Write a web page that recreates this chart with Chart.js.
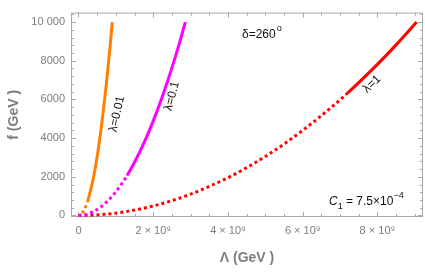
<!DOCTYPE html>
<html>
<head>
<meta charset="utf-8">
<script src="https://cdn.jsdelivr.net/npm/chart.js@4/dist/chart.umd.min.js"></script>
<style>
  html, body { margin: 0; padding: 0; background: #fff; }
</style>
</head>
<body>
<canvas id="chart" width="425" height="273"></canvas>
<script>
// Lambda (GeV) and f (GeV)
// lambda = 0.01 (orange)
const lamOrangeDot = [0.1e9, 0.15e9, 0.2e9, 0.25e9];
const fOrangeDot = [120, 275, 490, 760];
const lamOrange = [0.25e9, 0.35e9, 0.45e9, 0.55e9, 0.65e9, 0.75e9, 0.85e9, 0.905e9];
const fOrange = [760, 1500, 2470, 3690, 5160, 6870, 8820, 10000];

// lambda = 0.1 (magenta)
const lamMagentaDot = [0, 0.2e9, 0.4e9, 0.6e9, 0.8e9, 1.0e9, 1.2e9, 1.3e9];
const fMagentaDot = [0, 50, 195, 440, 780, 1220, 1760, 2060];
const lamMagenta = [1.3e9, 1.5e9, 1.75e9, 2.0e9, 2.25e9, 2.5e9, 2.7e9, 2.86e9];
const fMagenta = [2060, 2750, 3740, 4880, 6180, 7630, 8900, 10000];

// lambda = 1 (red)
const lamRedDot = [0, 0.5e9, 1e9, 1.5e9, 2e9, 2.5e9, 3e9, 3.5e9, 4e9, 4.5e9, 5e9, 5.5e9, 6e9, 6.5e9, 7e9, 7.2e9];
const fRedDot = [0, 30, 120, 275, 490, 765, 1100, 1500, 1950, 2470, 3050, 3690, 4400, 5160, 5980, 6330];
const lamRed = [7.2e9, 7.5e9, 8e9, 8.5e9, 9.05e9];
const fRed = [6330, 6870, 7810, 8820, 10000];

const xTicks = [0, 2e9, 4e9, 6e9, 8e9];
const yTicks = [0, 2000, 4000, 6000, 8000, 10000];

function pts(xs, ys) {
  return xs.map((v, i) => ({ x: v, y: ys[i] }));
}

function line(xs, ys, color, dotted) {
  return {
    data: pts(xs, ys),
    showLine: true,
    borderColor: color,
    borderWidth: 3,
    borderDash: dotted ? [3, 3] : [],
    borderCapStyle: 'butt',
    pointRadius: 0,
    cubicInterpolationMode: 'monotone',
    fill: false
  };
}

const GRAY = '#7d7d7d';
const FONT = '"Liberation Sans", Arial, sans-serif';

// frame with inward ticks on all four sides, plus the text labels
const framePlugin = {
  id: 'frame',
  beforeDatasetsDraw(chart) {
    const { ctx, chartArea: a, scales: { x, y } } = chart;
    ctx.save();
    ctx.strokeStyle = '#a8a8a8';
    ctx.lineWidth = 1;
    ctx.strokeRect(a.left + 0.5, a.top + 0.5, a.right - a.left - 1, a.bottom - a.top - 1);
    ctx.beginPath();
    for (let i = 0; i <= 18; i++) {
      const px = Math.round(x.getPixelForValue(i * 0.5e9)) + 0.5;
      if (px < a.left || px > a.right) continue;
      const len = i % 4 === 0 ? 5 : 3;
      ctx.moveTo(px, a.bottom); ctx.lineTo(px, a.bottom - len);
      ctx.moveTo(px, a.top); ctx.lineTo(px, a.top + len);
    }
    for (let i = 0; i <= 26; i++) {
      const py = Math.round(y.getPixelForValue(i * 400)) + 0.5;
      if (py < a.top || py > a.bottom) continue;
      const len = i % 5 === 0 ? 5 : 3;
      ctx.moveTo(a.left, py); ctx.lineTo(a.left + len, py);
      ctx.moveTo(a.right, py); ctx.lineTo(a.right - len, py);
    }
    ctx.stroke();
    ctx.restore();
  },
  afterDraw(chart) {
    const { ctx, chartArea: a } = chart;
    ctx.save();
    // axis titles
    ctx.fillStyle = GRAY;
    ctx.font = 'bold 14px ' + FONT;
    ctx.textAlign = 'center';
    ctx.textBaseline = 'middle';
    ctx.fillText('\u039B (GeV )', (a.left + a.right) / 2, 258);
    ctx.save();
    ctx.translate(14, (a.top + a.bottom) / 2);
    ctx.rotate(-Math.PI / 2);
    ctx.fillText('f (GeV )', 0, 0);
    ctx.restore();

    // curve labels
    ctx.fillStyle = '#111';
    ctx.font = '12px ' + FONT;
    const rot = (txt, cx, cy, deg) => {
      ctx.save();
      ctx.translate(cx, cy);
      ctx.rotate(deg * Math.PI / 180);
      ctx.fillText(txt, 0, 0);
      ctx.restore();
    };
    rot('\u03BB=0.01', 117, 114, -77);
    rot('\u03BB=0.1', 172, 96, -75);
    rot('\u03BB=1', 372, 84, -43);

    // delta label with raised o
    ctx.textAlign = 'left';
    ctx.textBaseline = 'alphabetic';
    let tx = 242;
    ctx.fillText('\u03B4=260', tx, 38);
    tx += ctx.measureText('\u03B4=260').width + 1;
    ctx.font = '9px ' + FONT;
    ctx.fillText('o', tx, 31);

    // C1 label
    tx = 329;
    ctx.font = 'italic 12px ' + FONT;
    ctx.fillText('C', tx, 205);
    tx += ctx.measureText('C').width;
    ctx.font = '9px ' + FONT;
    ctx.fillText('1', tx, 209);
    tx += ctx.measureText('1').width;
    ctx.font = '12px ' + FONT;
    ctx.fillText(' = 7.5\u00D710', tx, 205);
    tx += ctx.measureText(' = 7.5\u00D710').width;
    ctx.font = '9px ' + FONT;
    ctx.fillText('\u22124', tx, 198);
    ctx.restore();
  }
};

new Chart(document.getElementById('chart'), {
  type: 'scatter',
  data: {
    datasets: [
      line(lamOrangeDot, fOrangeDot, '#ff8000', true),
      line(lamOrange, fOrange, '#ff8000', false),
      line(lamMagentaDot, fMagentaDot, '#ff00ff', true),
      line(lamMagenta, fMagenta, '#ff00ff', false),
      line(lamRedDot, fRedDot, '#ff0000', true),
      line(lamRed, fRed, '#ff0000', false)
    ]
  },
  options: {
    responsive: false,
    devicePixelRatio: 1,
    animation: false,
    layout: { padding: { top: 1, right: 2, left: 0, bottom: 0 } },
    plugins: { legend: { display: false }, tooltip: { enabled: false } },
    scales: {
      x: {
        type: 'linear',
        min: -0.2e9,
        max: 9.22e9,
        grid: { display: false, drawTicks: false },
        border: { display: false },
        afterBuildTicks: s => { s.ticks = xTicks.map(v => ({ value: v })); },
        afterFit: s => { s.height = 56; },
        ticks: {
          padding: 7,
          color: GRAY,
          font: { family: FONT, size: 11 },
          maxRotation: 0,
          callback: v => v === 0 ? '0' : (v / 1e9) + ' \u00D7 10\u2079'
        }
      },
      y: {
        type: 'linear',
        min: -80,
        max: 10490,
        grid: { display: false, drawTicks: false },
        border: { display: false },
        afterBuildTicks: s => { s.ticks = yTicks.map(v => ({ value: v })); },
        afterFit: s => { s.width = 71; },
        ticks: {
          padding: 6,
          color: GRAY,
          font: { family: FONT, size: 11 },
          callback: v => v === 10000 ? '10 000' : String(v)
        }
      }
    }
  },
  plugins: [framePlugin]
});
</script>
</body>
</html>
